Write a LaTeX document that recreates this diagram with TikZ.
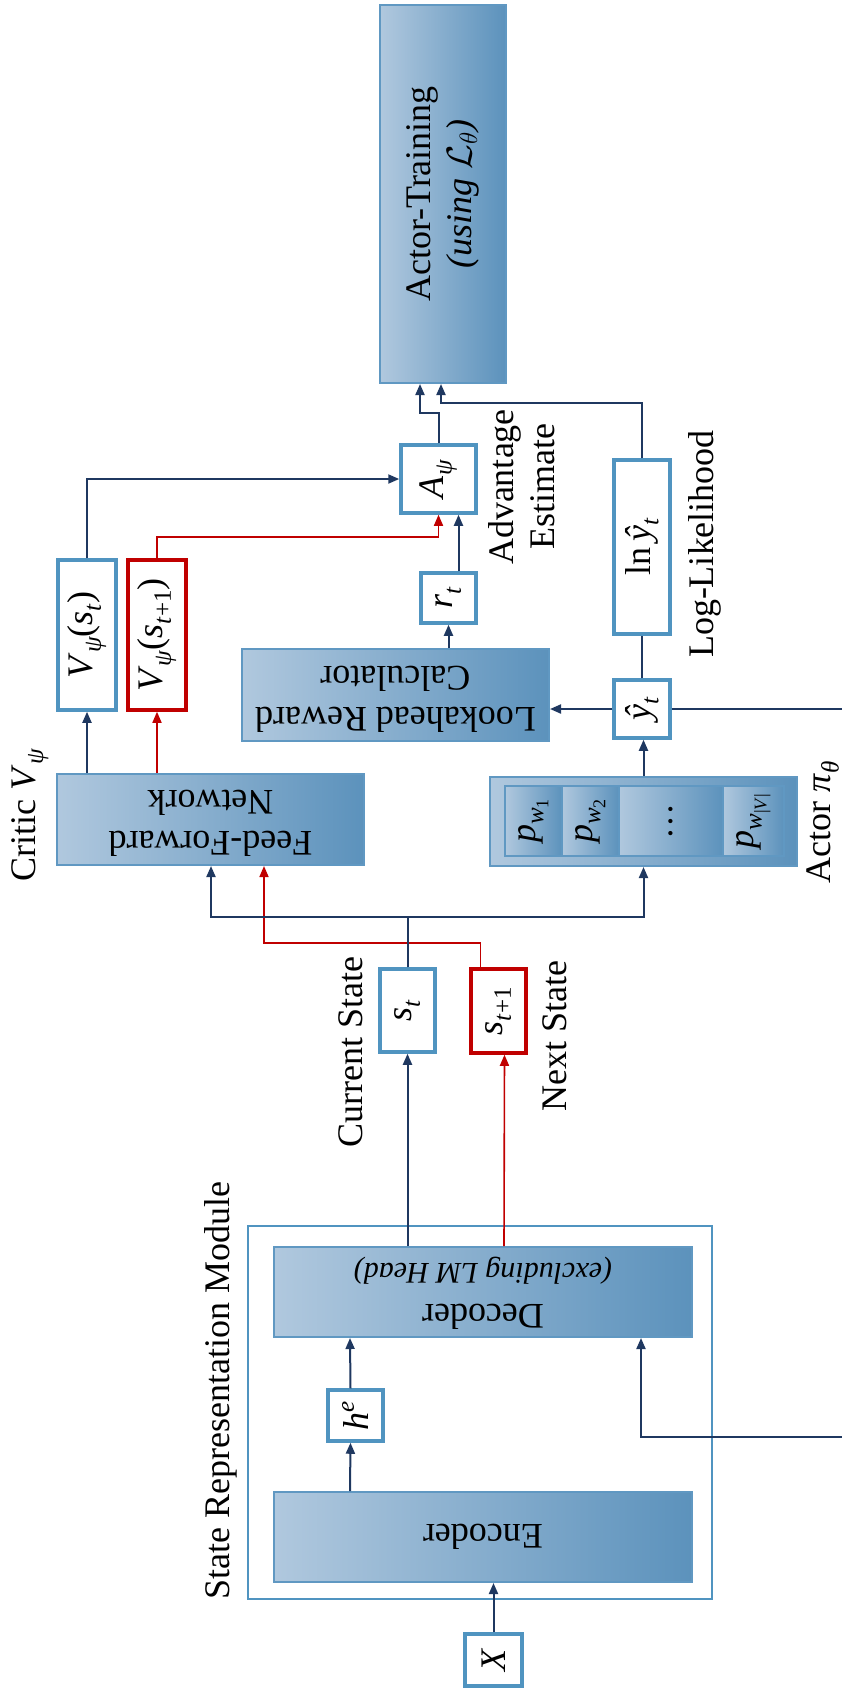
\RequirePackage{fix-cm}
\documentclass[tikz,border=0pt]{standalone}
\usepackage{fontspec}
\setmainfont{Liberation Serif}
\usepackage{amsmath}
\usetikzlibrary{arrows.meta,calc}
\definecolor{navy}{RGB}{31,56,96}
\definecolor{redc}{RGB}{192,0,0}
\definecolor{bblue}{RGB}{80,148,192}
\definecolor{gl}{RGB}{176,200,222}
\definecolor{gr}{RGB}{92,146,188}
\definecolor{gb}{RGB}{96,152,194}
\newcommand{\mySub}[1]{\raisebox{-0.22em}{\fontsize{25}{25}\selectfont #1}}
\newcommand{\mySup}[1]{\raisebox{0.42em}{\fontsize{25}{25}\selectfont #1}}
\newcommand{\mySubb}[1]{\raisebox{-0.2em}{\fontsize{18}{18}\selectfont #1}}
\begin{document}
\begin{tikzpicture}[x=1pt,y=-1pt,
  font=\fontsize{36}{41}\selectfont,
  wbox/.style={draw=bblue, line width=3.5pt, fill=white, inner sep=0pt},
  rbox/.style={draw=redc, line width=3.5pt, fill=white, inner sep=0pt},
  gbox/.style={draw=gb, line width=2pt, left color=gl, right color=gr, inner sep=0pt},
  cell/.style={draw=gb, line width=1.5pt, left color=gl, right color=gr, inner sep=0pt},
  frame/.style={draw=bblue, line width=1.5pt, inner sep=0pt},
  arr/.style={draw=navy, line width=2pt, -{Triangle[length=11pt,width=9pt]}},
  rarr/.style={draw=redc, line width=1.6pt, -{Triangle[length=11pt,width=9pt]}},
  plain/.style={draw=navy, line width=2pt},
  lab/.style={rotate=90, align=center, inner sep=0pt},
]
\useasboundingbox (0,0) rectangle (842,1690);

% boxes
\node[gbox, minimum width=126pt, minimum height=378pt] (train) at (443,194)
  {\rotatebox{90}{\begin{tabular}{@{}c@{}}Actor-Training\\\textit{(using $\mathcal{L}_\theta$)}\end{tabular}}};
\node[wbox, minimum width=75pt, minimum height=68pt] (adv) at (438.5,479)
  {\rotatebox{90}{\textit{A}\mySub{\textit{ψ}}}};
\node[wbox, minimum width=55pt, minimum height=50pt] (rt) at (448.5,598)
  {\rotatebox{90}{\textit{r}\mySub{\textit{t}}}};
\node[wbox, minimum width=56pt, minimum height=174pt] (ln) at (642,547)
  {\rotatebox{90}{ln\,\textit{ŷ}\mySub{\textit{t}}}};
\node[wbox, minimum width=56pt, minimum height=58pt] (yhat) at (642,709)
  {\rotatebox{90}{\textit{ŷ}\mySub{\textit{t}}}};
\node[gbox, minimum width=307pt, minimum height=92pt] (look) at (395.5,695)
  {\rotatebox{180}{\begin{tabular}{@{}c@{}}Lookahead Reward\\Calculator\end{tabular}}};
\node[wbox, minimum width=58pt, minimum height=150pt] (vst) at (87,635)
  {\rotatebox{90}{\textit{V}\mySub{\textit{ψ}}(\textit{s}\mySub{\textit{t}})}};
\node[rbox, minimum width=58pt, minimum height=150pt] (vst1) at (157,635)
  {\rotatebox{90}{\textit{V}\mySub{\textit{ψ}}(\textit{s}\mySub{\textit{t}+1})}};
\node[gbox, minimum width=307pt, minimum height=91pt] (ff) at (210.5,819.5)
  {\rotatebox{180}{\begin{tabular}{@{}c@{}}Feed-Forward\\Network\end{tabular}}};
\node[gbox, minimum width=307pt, minimum height=89pt] (actor) at (643.5,821.5) {};
\node[cell, minimum width=57pt, minimum height=70pt] (c1) at (533.5,821)
  {\rotatebox{90}{\textit{p}\mySub{\textit{w}\mySubb{1}}}};
\node[cell, minimum width=57pt, minimum height=70pt] (c2) at (590.5,821)
  {\rotatebox{90}{\textit{p}\mySub{\textit{w}\mySubb{2}}}};
\node[cell, minimum width=104pt, minimum height=70pt] (c3) at (671,821) {\rotatebox{90}{\ldots}};
\node[cell, minimum width=61pt, minimum height=70pt] (c4) at (753.5,821)
  {\rotatebox{90}{\textit{p}\mySub{\textit{w}\mySubb{|\textit{V}|}}}};
\node[wbox, minimum width=55pt, minimum height=83pt] (st) at (407.5,1010.5)
  {\rotatebox{90}{\textit{s}\mySub{\textit{t}}}};
\node[rbox, minimum width=55pt, minimum height=84pt] (st1) at (498.5,1011)
  {\rotatebox{90}{\textit{s}\mySub{\textit{t}+1}}};
\node[frame, minimum width=464pt, minimum height=373pt] (srm) at (480,1412.5) {};
\node[gbox, minimum width=418pt, minimum height=90pt] (dec) at (483,1292)
  {\rotatebox{180}{\begin{tabular}{@{}c@{}}Decoder\\{\fontsize{30}{36}\selectfont\textit{(excluding LM Head)}}\end{tabular}}};
\node[wbox, minimum width=55pt, minimum height=51pt] (he) at (355.5,1415.5)
  {\rotatebox{90}{\textit{h}\mySup{\textit{e}}}};
\node[gbox, minimum width=418pt, minimum height=90pt] (enc) at (483,1537) {\rotatebox{180}{Encoder}};
\node[wbox, minimum width=57pt, minimum height=52pt] (X) at (493.5,1660) {\rotatebox{90}{\textit{X}}};

% labels
\node[lab] (advlab) at (522,487) {Advantage\\Estimate};
\node[lab] (lllab) at (705,544) {Log-Likelihood};
\node[lab] (critlab) at (30,815) {Critic \textit{V}\mySub{\textit{ψ}}};
\node[lab] (curlab) at (351,1052) {Current State};
\node[lab] (nextlab) at (555,1036) {Next State};
\node[lab] (actlab) at (823,822) {Actor \textit{π}\mySub{\textit{θ}}};
\node[lab, anchor=west] (srmlab) at (221,1600) {State Representation Module};

% connectors
\draw[arr] (adv.north) -- ++(0,-30) -| ($(train.south)+(-23,0)$);
\draw[arr] (ln.north) -- ++(0,-55) -| ($(train.south)+(-2,0)$);
\draw[arr] (vst.north) |- (adv.west);
\draw[rarr] (vst1.north) -- ++(0,-21) -| (adv.south);
\draw[arr] ($(rt.north)+(10,0)$) -- ($(adv.south)+(20,0)$);
\draw[arr] (look.north -| rt.south) -- (rt.south);
\draw[plain] (yhat.north) -- (ln.south);
\draw[arr] (yhat.west) -- (look.east |- yhat.west);
\draw[arr] (yhat.east) -- (870,709) -- (870,1437) -| ($(dec.south)+(158,0)$);
\draw[arr] (actor.north) -- (actor.north |- yhat.south);
\draw[arr] (ff.north -| vst.south) -- (vst.south);
\draw[rarr] (ff.north -| vst1.south) -- (vst1.south);
\draw[rarr] ($(st1.north)+(-18,0)$) -- ++(0,-24) -| ($(ff.south)+(53.5,0)$);
\draw[arr] (st.north) -- ++(0,-50) -| ($(ff.south)+(0.5,0)$);
\draw[arr] (st.north) -- ++(0,-50) -| (actor.south);
\draw[arr] (dec.north -| st.south) -- (st.south);
\draw[rarr] ($(dec.north)+(21,0)$) -- ($(st1.south)+(6,0)$);
\draw[arr] ($(enc.north)+(-133,0)$) -- ($(he.south)+(-5,0)$);
\draw[arr] ($(he.north)+(-5,0)$) -- ($(dec.south)+(-133,0)$);
\draw[arr] (X.north) -- (X.north |- enc.south);
\end{tikzpicture}
\end{document}
